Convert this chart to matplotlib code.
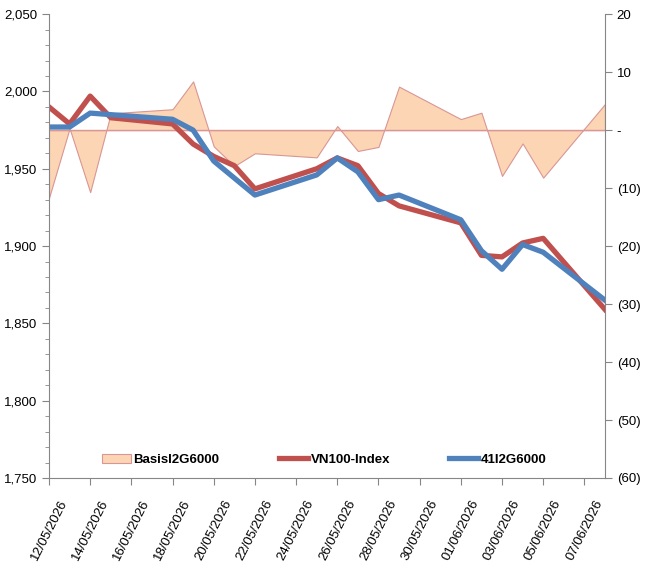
import numpy as np
import pandas as pd
import matplotlib
matplotlib.use("Agg")
import matplotlib.pyplot as plt
import matplotlib.dates as mdates
from matplotlib.patches import Patch
from matplotlib.lines import Line2D
from matplotlib.ticker import FuncFormatter, MultipleLocator

plt.rcParams['font.family'] = ['Liberation Sans', 'DejaVu Sans']

# trading days shown on the chart
dates = pd.to_datetime([
    "2026-05-12", "2026-05-13", "2026-05-14", "2026-05-15", "2026-05-18",
    "2026-05-19", "2026-05-20", "2026-05-21", "2026-05-22", "2026-05-25",
    "2026-05-26", "2026-05-27", "2026-05-28", "2026-05-29", "2026-06-01",
    "2026-06-02", "2026-06-03", "2026-06-04", "2026-06-05", "2026-06-08",
])

vn100 = [1990, 1979, 1997, 1983, 1979, 1966, 1958, 1952, 1937, 1950,
         1957, 1952, 1934, 1926, 1915, 1894, 1893, 1902, 1905, 1859]
fut41 = [1977, 1977, 1986, 1985, 1982, 1975, 1955, 1944, 1933, 1946,
         1957, 1948, 1930, 1933, 1917, 1897, 1885, 1901, 1896, 1865]
basis = [-11.7, 0.3, -10.7, 2.9, 3.6, 8.4, -2.8, -6.2, -4.0, -4.7,
         0.7, -3.6, -2.9, 7.5, 1.9, 3.0, -7.9, -2.3, -8.2, 4.5]

labels = ["BasisI2G6000", "VN100-Index", "41I2G6000"]
red = "#C0504D"
blue = "#4F81BD"
fill_col = "#FCD5B4"
edge_col = "#D99694"
spine_col = "#868686"

fig = plt.figure(figsize=(6.48, 5.66), dpi=100)
ax1 = fig.add_axes([0.0756, 0.1555, 0.8580, 0.8195])
ax2 = ax1.twinx()

# basis area on the right axis, behind the index lines
ax2.fill_between(dates, basis, 0, color=fill_col, edgecolor=edge_col, linewidth=0.8)
ax2.axhline(0, color=edge_col, linewidth=1.0)
ax2.set_ylim(-60, 20)
ax2.yaxis.set_major_locator(MultipleLocator(10))

def paren_fmt(v, pos):
    if abs(v) < 1e-9:
        return "-"
    if v < 0:
        return "(%d)" % abs(v)
    return "%d" % v
ax2.yaxis.set_major_formatter(FuncFormatter(paren_fmt))

ax1.set_zorder(ax2.get_zorder() + 1)
ax1.patch.set_visible(False)
ax1.plot(dates, vn100, color=red, linewidth=3.8, solid_joinstyle='round')
ax1.plot(dates, fut41, color=blue, linewidth=3.8, solid_joinstyle='round')
ax1.set_ylim(1750, 2050)
ax1.yaxis.set_major_locator(MultipleLocator(50))
ax1.yaxis.set_minor_locator(MultipleLocator(10))
ax1.yaxis.set_major_formatter(FuncFormatter(lambda v, p: "{:,.0f}".format(v)))

ax1.set_xlim(pd.Timestamp("2026-05-12"), pd.Timestamp("2026-06-08"))
tick_days = pd.date_range("2026-05-12", "2026-06-07", freq="2D")
ax1.set_xticks(tick_days)
ax1.xaxis.set_major_formatter(mdates.DateFormatter("%d/%m/%Y"))
for lab in ax1.get_xticklabels():
    lab.set_rotation(63)
    lab.set_ha('center')
    lab.set_va('top')

for ax in (ax1, ax2):
    ax.spines['top'].set_visible(False)
    for s in ('left', 'right', 'bottom'):
        ax.spines[s].set_color(spine_col)
    ax.tick_params(which='both', colors=spine_col, labelcolor='black', labelsize=9.5,
                   direction='out')
    ax.tick_params(which='major', length=5)
    ax.tick_params(which='minor', length=3)
ax1.spines['right'].set_visible(False)
ax2.spines['left'].set_visible(False)
ax2.spines['bottom'].set_visible(False)
ax1.tick_params(axis='x', pad=9)

handles = [Patch(facecolor=fill_col, edgecolor=edge_col, linewidth=0.8),
           Line2D([], [], color=red, linewidth=3.8),
           Line2D([], [], color=blue, linewidth=3.8)]
ax1.legend(handles, labels, loc='lower center', bbox_to_anchor=(0.495, 0.0),
           ncol=3, frameon=False, prop={'weight': 'bold', 'size': 9.5},
           columnspacing=4.5, handlelength=2.2, handletextpad=0.2)

fig.savefig("out.png", dpi=100)
